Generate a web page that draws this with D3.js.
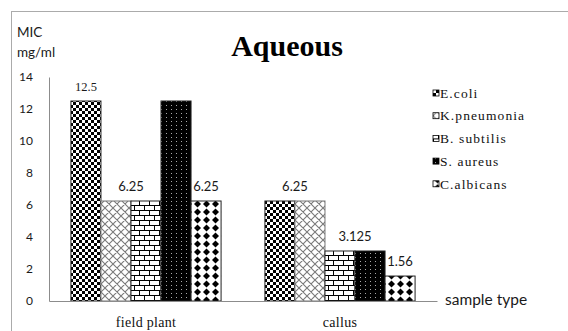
<!DOCTYPE html>
<html>
<head>
<meta charset="utf-8">
<script src="https://cdn.jsdelivr.net/npm/d3@7"></script>
<style>
  html, body { margin: 0; padding: 0; background: #fff; }
  svg { display: block; }
</style>
</head>
<body>
<svg id="chart" width="568" height="331"></svg>
<script>
// MIC values (mg/ml) for the aqueous extract
const categories = ["field plant", "callus"];
const seriesNames = ["E.coli", "K.pneumonia", "B. subtilis", "S. aureus", "C.albicans"];
const ecoli       = [12.5, 6.25];
const kpneumonia  = [6.25, 6.25];
const bsubtilis   = [6.25, 3.125];
const saureus     = [12.5, 3.125];
const calbicans   = [6.25, 1.56];
const yTicks = [0, 2, 4, 6, 8, 10, 12, 14];

// value labels: category index, first and last series index covered, value text
const labelCats  = [0, 0, 0, 1, 1, 1];
const labelFrom  = [0, 1, 4, 0, 2, 4];
const labelTo    = [0, 2, 4, 1, 3, 4];
const labelText  = ["12.5", "6.25", "6.25", "6.25", "3.125", "1.56"];

const seriesValues = [ecoli, kpneumonia, bsubtilis, saureus, calbicans];

const svg = d3.select("#chart");
const defs = svg.append("defs");

// ---- fill patterns ----
// checkerboard
const pChk = defs.append("pattern").attr("id", "p0").attr("patternUnits", "userSpaceOnUse")
  .attr("width", 6).attr("height", 6);
pChk.append("rect").attr("width", 6).attr("height", 6).attr("fill", "#fff");
pChk.append("rect").attr("width", 3).attr("height", 3).attr("fill", "#000");
pChk.append("rect").attr("x", 3).attr("y", 3).attr("width", 3).attr("height", 3).attr("fill", "#000");

// diagonal lattice
const pLat = defs.append("pattern").attr("id", "p1").attr("patternUnits", "userSpaceOnUse")
  .attr("width", 8).attr("height", 8);
pLat.append("rect").attr("width", 8).attr("height", 8).attr("fill", "#fff");
pLat.append("path").attr("d", "M0,0L8,8M8,0L0,8M-1,7L1,9M7,-1L9,1M-1,1L1,-1M7,9L9,7")
  .attr("stroke", "#7a7a7a").attr("stroke-width", 1.1);

// brick
const pBrk = defs.append("pattern").attr("id", "p2").attr("patternUnits", "userSpaceOnUse")
  .attr("width", 10).attr("height", 10);
pBrk.append("rect").attr("width", 10).attr("height", 10).attr("fill", "#fff");
pBrk.append("path").attr("d", "M0,0.5H10M0,5.5H10M0.5,0V5M5.5,5V10")
  .attr("stroke", "#000").attr("stroke-width", 1);

// black with fine light dots
const pDot = defs.append("pattern").attr("id", "p3").attr("patternUnits", "userSpaceOnUse")
  .attr("width", 5).attr("height", 4);
pDot.append("rect").attr("width", 5).attr("height", 4).attr("fill", "#000");
pDot.append("rect").attr("x", 2).attr("y", 1).attr("width", 1).attr("height", 1).attr("fill", "#aaa");

// black diamonds on white
const pDia = defs.append("pattern").attr("id", "p4").attr("patternUnits", "userSpaceOnUse")
  .attr("width", 9).attr("height", 8);
pDia.append("rect").attr("width", 9).attr("height", 8).attr("fill", "#fff");
pDia.append("path").attr("d", "M4.5,0.5L8,4L4.5,7.5L1,4Z").attr("fill", "#000");

// ---- frame ----
svg.append("rect").attr("x", 11.5).attr("y", 11.5).attr("width", 600).attr("height", 400)
  .attr("fill", "none").attr("stroke", "#ababab").attr("stroke-width", 1);

// ---- scales ----
const x0 = d3.scaleBand().domain(categories).range([49, 437]).paddingInner(0).paddingOuter(0);
const x1 = d3.scaleBand().domain(seriesNames).range([0, x0.bandwidth()]).paddingInner(0).paddingOuter(0.73);
const y = d3.scaleLinear().domain([0, 14]).range([301, 77]);

// ---- title ----
svg.append("text").attr("x", 287).attr("y", 56).attr("text-anchor", "middle")
  .attr("font-family", "'Liberation Serif', 'Times New Roman', serif")
  .attr("font-weight", "bold").attr("font-size", 30).attr("fill", "#000")
  .text("Aqueous");

// ---- y axis ----
const yAxis = d3.axisLeft(y).tickValues(yTicks).tickSize(0).tickPadding(16);
const gy = svg.append("g").attr("transform", "translate(49,0)").call(yAxis);
gy.select(".domain").attr("stroke", "#8c8c8c");
gy.selectAll(".tick text").attr("font-family", "Lato, 'Open Sans', sans-serif")
  .attr("font-size", 12).attr("fill", "#1a1a1a");

svg.append("text").attr("x", 17).attr("y", 37)
  .attr("font-family", "Lato, 'Open Sans', sans-serif").attr("font-size", 13.5).attr("fill", "#1a1a1a")
  .text("MIC");
svg.append("text").attr("x", 17).attr("y", 57)
  .attr("font-family", "Lato, 'Open Sans', sans-serif").attr("font-size", 13.5).attr("fill", "#1a1a1a")
  .text("mg/ml");

// ---- bars ----
const groups = svg.append("g").selectAll("g").data(categories).join("g")
  .attr("transform", d => `translate(${x0(d)},0)`);

groups.selectAll("rect")
  .data((c, ci) => seriesNames.map((s, si) => ({ s, si, v: seriesValues[si][ci] })))
  .join("rect")
  .attr("x", d => x1(d.s))
  .attr("y", d => y(d.v))
  .attr("width", x1.bandwidth())
  .attr("height", d => y(0) - y(d.v))
  .attr("fill", d => `url(#p${d.si})`)
  .attr("stroke", d => d.si === 1 ? "#777" : "#222")
  .attr("stroke-width", 1);

// ---- x axis ----
const xAxis = d3.axisBottom(x0).tickSize(0).tickPadding(16);
const gx = svg.append("g").attr("transform", `translate(0,${y(0)})`).call(xAxis);
gx.select(".domain").attr("stroke", "#8c8c8c");
gx.selectAll(".tick text").attr("font-family", "'Liberation Serif', 'Times New Roman', serif")
  .attr("font-size", 14).attr("letter-spacing", 0.3).attr("fill", "#111");

svg.append("text").attr("x", 445).attr("y", 305)
  .attr("font-family", "Lato, 'Open Sans', sans-serif").attr("font-size", 15.5).attr("fill", "#1a1a1a")
  .text("sample type");

// ---- value labels ----
labelText.forEach((t, i) => {
  const cat = categories[labelCats[i]];
  const a = x0(cat) + x1(seriesNames[labelFrom[i]]);
  const b = x0(cat) + x1(seriesNames[labelTo[i]]) + x1.bandwidth();
  const serif = i === 0;
  svg.append("text")
    .attr("x", (a + b) / 2)
    .attr("y", y(+t) - 10)
    .attr("text-anchor", "middle")
    .attr("font-family", serif ? "'Liberation Serif', 'Times New Roman', serif" : "Lato, 'Open Sans', sans-serif")
    .attr("font-size", serif ? 12.5 : 13)
    .attr("fill", "#1a1a1a")
    .text(t);
});

// ---- legend ----
const legend = svg.append("g").attr("transform", "translate(433,0)");
const rows = legend.selectAll("g").data(seriesNames).join("g")
  .attr("transform", (d, i) => `translate(0,${93 + i * 22.7})`);
rows.append("rect").attr("x", 0).attr("y", -3).attr("width", 6).attr("height", 6)
  .attr("fill", (d, i) => `url(#p${i})`).attr("stroke", "#000").attr("stroke-width", 0.8);
rows.append("text").attr("x", 7).attr("y", 0).attr("dy", "0.35em")
  .attr("font-family", "'Liberation Serif', 'Times New Roman', serif")
  .attr("font-size", 13.5).attr("letter-spacing", 1.1).attr("fill", "#111")
  .text(d => d);
</script>
</body>
</html>
